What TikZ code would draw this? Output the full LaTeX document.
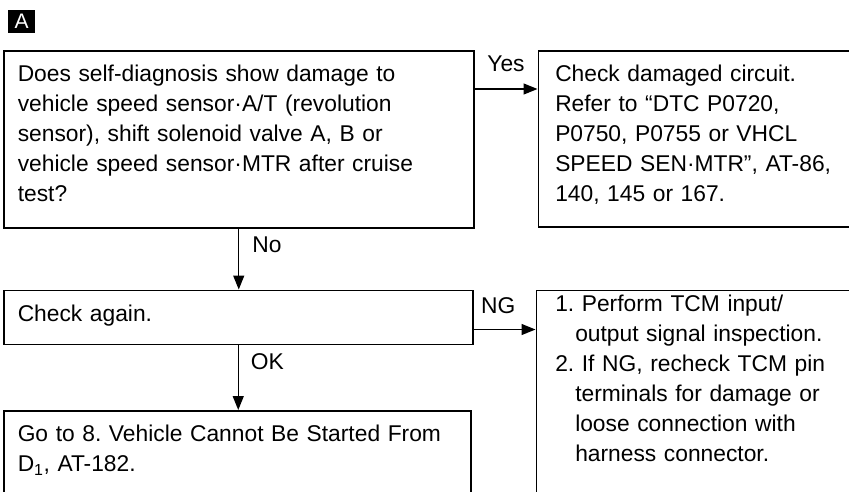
\documentclass[tikz,border=0pt]{standalone}
\usepackage{fontspec}
\setmainfont{Liberation Sans}
\usetikzlibrary{calc,positioning,arrows.meta}

\begin{document}
\frenchspacing
\begin{tikzpicture}[x=1pt,y=1pt]
        \tikzstyle{boite} = [rectangle, draw=black, line width=1.5pt, anchor=north west, align=left, inner xsep=14pt, inner ysep=14pt, text height=17pt, font=\fontsize{22.8}{30}\selectfont]
        \tikzstyle{fleche} = [line width=1.3pt, -{Triangle[length=14pt,width=11pt]}]
        \tikzstyle{etiquette} = [inner sep=0pt, font=\fontsize{22.8}{30}\selectfont]
        \useasboundingbox (0,0) rectangle (849,-491);
        \clip (0,0) rectangle (849,-491);
        \node (lettre) [fill=black, text=white, anchor=north west, minimum width=27pt, minimum height=23pt, inner sep=0pt, font=\fontsize{21}{21}\selectfont] at (8,-10) {A};

        \node (question) [boite, text width=442pt, text depth=132pt] at (3,-50) {Does self-diagnosis show damage to\\ vehicle speed sensor·A/T (revolution\\ sensor), shift solenoid valve A, B or\\ vehicle speed sensor·MTR after cruise\\ test?};
        \node (circuit) [boite, inner xsep=17pt, text width=278pt, text depth=131pt, right=63pt of question.north east, anchor=north west] {Check damaged circuit.\\ Refer to ``DTC P0720,\\ P0750, P0755 or VHCL\\ SPEED SEN·MTR'', AT-86,\\ 140, 145 or 167.};
        \node (check_again) [boite, text width=441pt, text depth=9pt, below=61pt of question.south west, anchor=north west] {Check again.};
        \node (tcm) [boite, inner xsep=19pt, inner ysep=4pt, text width=275pt, text depth=250pt, right=62pt of check_again.north east, anchor=north west] {1. Perform TCM input/\\
            \hspace*{20pt}output signal inspection.\\
            2. If NG, recheck TCM pin\\
            \hspace*{20pt}terminals for damage or\\
            \hspace*{20pt}loose connection with\\
            \hspace*{20pt}harness connector.};
        \node (go_to) [boite, text width=439pt, text depth=200pt, below=65pt of check_again.south west, anchor=north west] {Go to 8. Vehicle Cannot Be Started From\\ D\textsubscript{1}, AT-182.};

        \draw[fleche] ($(question.north east)+(0,-39)$) -- node[etiquette, above=17pt] {Yes} ($(circuit.north west)+(0,-39)$);
        \draw[fleche] (question.south) -- node[etiquette, right=13pt, pos=0.26] {No} (question.south |- check_again.north);
        \draw[fleche] ($(check_again.north east)+(0,-40)$) -- node[etiquette, above=15pt, pos=0.4] {NG} ($(tcm.north west)+(0,-40)$);
        \draw[fleche] (check_again.south) -- node[etiquette, right=12pt, pos=0.25] {OK} (check_again.south |- go_to.north);
\end{tikzpicture}
\end{document}
